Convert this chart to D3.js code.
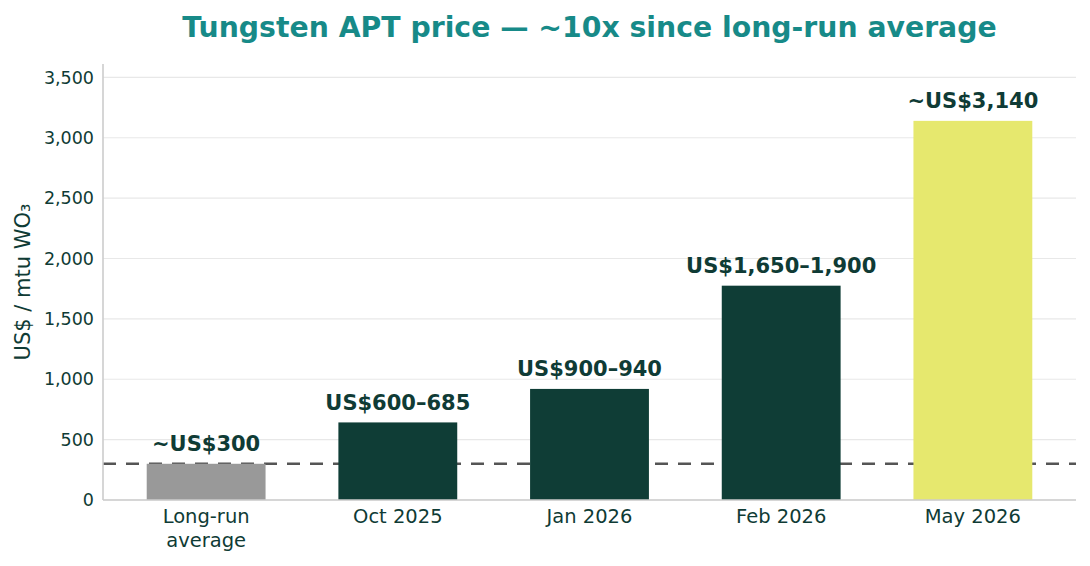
<!DOCTYPE html>
<html>
<head>
<meta charset="utf-8">
<script src="https://cdn.jsdelivr.net/npm/d3@7"></script>
<style>
  body { margin: 0; background: #fff; }
  text { font-family: "DejaVu Sans", sans-serif; }
</style>
</head>
<body>
<div id="chart"></div>
<script>
// data
const categories = ['Long-run\naverage', 'Oct 2025', 'Jan 2026', 'Feb 2026', 'May 2026'];
const prices = [300, 642.5, 920, 1775, 3140];
const barLabels = ['~US$300', 'US$600–685', 'US$900–940', 'US$1,650–1,900', '~US$3,140'];
const barColors = ['#999999', '#0f3d36', '#0f3d36', '#0f3d36', '#e6e86e'];
const yTicks = [0, 500, 1000, 1500, 2000, 2500, 3000, 3500];
const longRunAvg = 300;

const svgW = 1090;
const svgH = 566;
const margin = { top: 64, right: 14, bottom: 66, left: 103 };
const textColor = '#0f3b35';

const svg = d3.select('#chart').append('svg')
  .attr('width', svgW)
  .attr('height', svgH)
  .attr('viewBox', `0 0 ${svgW} ${svgH}`);

const x = d3.scaleBand()
  .domain(categories)
  .range([margin.left, svgW - margin.right])
  .paddingInner(0.38)
  .paddingOuter(0.228);

const y = d3.scaleLinear()
  .domain([0, 3611])
  .range([svgH - margin.bottom, margin.top]);

// Grid
const gGrid = svg.append('g').attr('class', 'grid');
yTicks.forEach((t) => {
  gGrid.append('line')
    .attr('x1', margin.left)
    .attr('x2', svgW - margin.right)
    .attr('y1', y(t))
    .attr('y2', y(t))
    .attr('stroke', '#e8e8e8')
    .attr('stroke-width', 1.2);
});

// Long-run reference line (below bars)
svg.append('line')
  .attr('x1', margin.left)
  .attr('x2', svgW - margin.right)
  .attr('y1', y(longRunAvg))
  .attr('y2', y(longRunAvg))
  .attr('stroke', '#555555')
  .attr('stroke-width', 2.5)
  .attr('stroke-dasharray', '13,10');

// Bars
const gBars = svg.append('g').attr('class', 'bars');
categories.forEach((c, i) => {
  gBars.append('rect')
    .attr('x', x(c))
    .attr('y', y(prices[i]))
    .attr('width', x.bandwidth())
    .attr('height', y(0) - y(prices[i]))
    .attr('fill', barColors[i]);
  gBars.append('text')
    .attr('x', x(c) + x.bandwidth() / 2)
    .attr('y', y(prices[i]) - 12.5)
    .attr('text-anchor', 'middle')
    .attr('font-size', 21)
    .attr('font-weight', 'bold')
    .attr('fill', textColor)
    .text(barLabels[i]);
});

// Axes
const yAxis = d3.axisLeft(y)
  .tickValues(yTicks)
  .tickSize(0)
  .tickPadding(9)
  .tickFormat(d3.format(','));
const gY = svg.append('g')
  .attr('transform', `translate(${margin.left},0)`)
  .call(yAxis);
gY.select('.domain').remove();
gY.selectAll('text')
  .attr('font-size', 17.5)
  .attr('fill', textColor)
  .style('font-family', '"DejaVu Sans", sans-serif');

const gX = svg.append('g')
  .attr('transform', `translate(0,${y(0)})`)
  .call(d3.axisBottom(x).tickSize(0).tickFormat(''));
gX.select('.domain').remove();
categories.forEach((c) => {
  const lines = c.split('\n');
  const t = svg.append('text')
    .attr('x', x(c) + x.bandwidth() / 2)
    .attr('y', y(0) + 23)
    .attr('text-anchor', 'middle')
    .attr('font-size', 19.5)
    .attr('fill', textColor);
  lines.forEach((l, k) => {
    t.append('tspan')
      .attr('x', x(c) + x.bandwidth() / 2)
      .attr('dy', k === 0 ? 0 : 23.5)
      .text(l);
  });
});

// Spines
svg.append('line')
  .attr('x1', margin.left).attr('x2', margin.left)
  .attr('y1', margin.top).attr('y2', y(0))
  .attr('stroke', '#cccccc').attr('stroke-width', 1.6);
svg.append('line')
  .attr('x1', margin.left).attr('x2', svgW - margin.right)
  .attr('y1', y(0)).attr('y2', y(0))
  .attr('stroke', '#cccccc').attr('stroke-width', 1.6);

// Y label
svg.append('text')
  .attr('transform', `translate(30,${(margin.top + y(0)) / 2}) rotate(-90)`)
  .attr('text-anchor', 'middle')
  .attr('font-size', 21)
  .attr('fill', textColor)
  .text('US$ / mtu WO₃');

// Title
svg.append('text')
  .attr('x', (margin.left + svgW - margin.right) / 2)
  .attr('y', 37)
  .attr('text-anchor', 'middle')
  .attr('font-size', 28.3)
  .attr('font-weight', 'bold')
  .attr('fill', '#178a88')
  .text('Tungsten APT price — ~10x since long-run average');
</script>
</body>
</html>
